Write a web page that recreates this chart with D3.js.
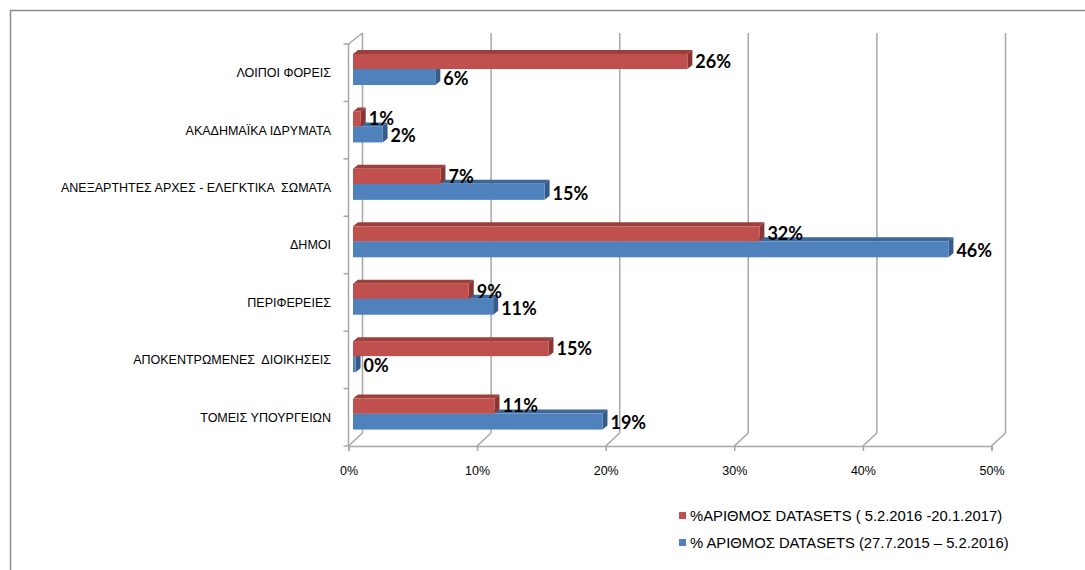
<!DOCTYPE html>
<html>
<head>
<meta charset="utf-8">
<script src="https://cdn.jsdelivr.net/npm/d3@7"></script>
<style>
  body { margin: 0; background: #fff; }
  svg { display: block; }
</style>
</head>
<body>
<div id="chart"></div>
<script>
// categories top to bottom
var categories = ["ΛΟΙΠΟΙ ΦΟΡΕΙΣ", "ΑΚΑΔΗΜΑΪΚΑ ΙΔΡΥΜΑΤΑ", "ΑΝΕΞΑΡΤΗΤΕΣ ΑΡΧΕΣ - ΕΛΕΓΚΤΙΚΑ  ΣΩΜΑΤΑ",
                  "ΔΗΜΟΙ", "ΠΕΡΙΦΕΡΕΙΕΣ", "ΑΠΟΚΕΝΤΡΩΜΕΝΕΣ  ΔΙΟΙΚΗΣΕΙΣ", "ΤΟΜΕΙΣ ΥΠΟΥΡΓΕΙΩΝ"];
// % ΑΡΙΘΜΟΣ DATASETS ( 5.2.2016 -20.1.2017)
var redValues = [0.260, 0.006, 0.068, 0.316, 0.090, 0.152, 0.110];
// % ΑΡΙΘΜΟΣ DATASETS (27.7.2015 – 5.2.2016)
var blueValues = [0.064, 0.023, 0.149, 0.463, 0.109, 0.002, 0.194];
var xTicks = [0, 0.1, 0.2, 0.3, 0.4, 0.5];
var legendLabels = ["%ΑΡΙΘΜΟΣ DATASETS ( 5.2.2016 -20.1.2017)", "% ΑΡΙΘΜΟΣ DATASETS (27.7.2015 – 5.2.2016)"];

var width = 1085, height = 570;
var depthX = 14, depthY = 13;   // wall depth
var barDX = 5, barDY = 4;       // bar depth

var svg = d3.select("#chart").append("svg")
    .attr("width", width)
    .attr("height", height);

// outer frame
svg.append("path")
    .attr("d", "M10.5," + height + "V10.5H" + width)
    .attr("fill", "none")
    .attr("stroke", "#8c8c8c")
    .attr("stroke-width", 1.5);

var x = d3.scaleLinear().domain([0, 0.5]).range([348.5, 991.5]);
var y = d3.scaleBand().domain(categories).range([44, 446]);

var grid = svg.append("g").attr("stroke", "#a6a6a6").attr("stroke-width", 1.5).attr("fill", "none");

// back wall gridlines + floor diagonals
xTicks.forEach(function(t) {
  grid.append("line")
      .attr("x1", x(t) + depthX).attr("x2", x(t) + depthX)
      .attr("y1", y.range()[0] - depthY + 2).attr("y2", y.range()[1] - depthY);
  grid.append("line")
      .attr("x1", x(t)).attr("x2", x(t) + depthX)
      .attr("y1", y.range()[1]).attr("y2", y.range()[1] - depthY);
});

// left wall
grid.append("line")
    .attr("x1", x(0)).attr("x2", x(0))
    .attr("y1", y.range()[0]).attr("y2", y.range()[1]);
grid.append("line")
    .attr("x1", x(0)).attr("x2", x(0) + depthX)
    .attr("y1", y.range()[0]).attr("y2", y.range()[0] - depthY + 2);

// category ticks at band edges
d3.range(categories.length + 1).forEach(function(i) {
  var yy = y.range()[0] + i * y.step();
  grid.append("line")
      .attr("x1", x(0) - 5).attr("x2", x(0))
      .attr("y1", yy).attr("y2", yy);
});

// x axis
var xAxis = svg.append("g")
    .attr("transform", "translate(0," + y.range()[1] + ")")
    .call(d3.axisBottom(x).tickValues(xTicks).tickFormat(d3.format(".0%")).tickSize(5).tickPadding(15));
xAxis.select(".domain").attr("stroke", "#a6a6a6").attr("stroke-width", 1.5);
xAxis.selectAll(".tick line").attr("stroke", "#a6a6a6").attr("stroke-width", 1.5);
xAxis.selectAll(".tick text")
    .attr("fill", "#000")
    .style("font-family", "'Liberation Sans', Arial, sans-serif")
    .style("font-size", "12.5px");

// category labels
svg.append("g").selectAll("text")
  .data(categories)
  .join("text")
    .attr("x", 331)
    .attr("y", function(d) { return y(d) + y.bandwidth() / 2; })
    .attr("dy", "0.35em")
    .attr("text-anchor", "end")
    .style("font-family", "'Liberation Sans', Arial, sans-serif")
    .style("font-size", "12.5px")
    .style("white-space", "pre")
    .attr("fill", "#000")
    .text(function(d) { return d; });

// 3d bars
function drawBar(g, v, top, h, c) {
  var x0 = x(0) + 4.5, x1 = x(v) + 4.5;
  g.append("path")
      .attr("d", "M" + x0 + "," + top + "L" + (x0 + barDX) + "," + (top - barDY) +
                 "L" + (x1 + barDX) + "," + (top - barDY) + "L" + x1 + "," + top + "Z")
      .attr("fill", c.top);
  g.append("path")
      .attr("d", "M" + x1 + "," + top + "L" + (x1 + barDX) + "," + (top - barDY) +
                 "L" + (x1 + barDX) + "," + (top + h - barDY) + "L" + x1 + "," + (top + h) + "Z")
      .attr("fill", c.side);
  g.append("rect")
      .attr("x", x0).attr("y", top)
      .attr("width", Math.max(0, x1 - x0)).attr("height", h)
      .attr("fill", c.front);
}

var blueCol = { front: "#4f81bd", top: "#3d6699", side: "#365b88" };
var redCol = { front: "#c0504d", top: "#9e3f3c", side: "#8a3533" };
var bars = svg.append("g");
var labels = svg.append("g")
    .style("font-family", "Lato, 'Open Sans', sans-serif")
    .style("font-weight", "bold")
    .style("font-size", "18px")
    .attr("fill", "#000");

var fmt = function(v) { return Math.round(v * 100) + "%"; };

categories.forEach(function(cat, i) {
  var y0 = y(cat);
  drawBar(bars, blueValues[i], y0 + 25, 16, blueCol);
  drawBar(bars, redValues[i], y0 + 10, 15, redCol);
  labels.append("text")
      .attr("x", x(redValues[i]) + 4.5 + barDX + 3)
      .attr("y", y0 + 17.5)
      .attr("dy", "0.35em")
      .text(fmt(redValues[i]));
  labels.append("text")
      .attr("x", x(blueValues[i]) + 4.5 + barDX + 3)
      .attr("y", y0 + 34.5)
      .attr("dy", "0.35em")
      .text(fmt(blueValues[i]));
});

// legend
var legend = svg.append("g")
    .style("font-family", "'Liberation Sans', Arial, sans-serif")
    .style("font-size", "14.8px");
[redCol.front, blueCol.front].forEach(function(c, i) {
  var ly = 516 + i * 27;
  legend.append("rect")
      .attr("x", 679).attr("y", ly - 4)
      .attr("width", 7).attr("height", 7)
      .attr("fill", c);
  legend.append("text")
      .attr("x", 690).attr("y", ly)
      .attr("dy", "0.35em")
      .style("white-space", "pre")
      .text(legendLabels[i]);
});
</script>
</body>
</html>
